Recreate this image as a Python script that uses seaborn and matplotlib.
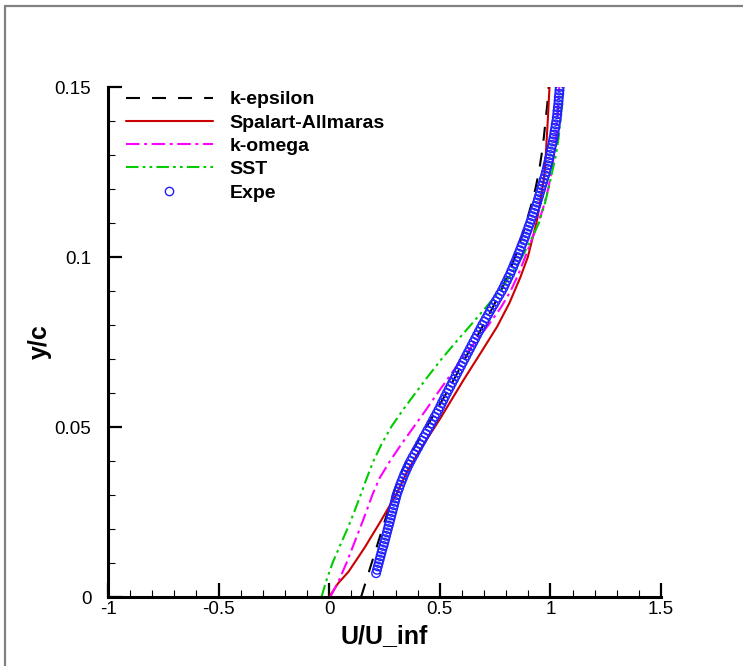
import matplotlib
matplotlib.use("Agg")
import matplotlib.pyplot as plt
from matplotlib.lines import Line2D
from matplotlib.ticker import MultipleLocator
import seaborn as sns
import pandas as pd

# ---------------- data ----------------
keps_y = [0.000, 0.010, 0.020, 0.030, 0.035, 0.040, 0.045, 0.050, 0.055, 0.060, 0.065, 0.070, 0.075,
          0.080, 0.085, 0.090, 0.095, 0.100, 0.105, 0.110, 0.115, 0.120, 0.125, 0.130, 0.135, 0.140,
          0.145, 0.150]
keps_u = [0.144, 0.192, 0.240, 0.288, 0.315, 0.350, 0.395, 0.440, 0.485, 0.530, 0.572, 0.613, 0.655,
          0.697, 0.738, 0.776, 0.810, 0.840, 0.866, 0.890, 0.912, 0.932, 0.948, 0.960, 0.970, 0.978,
          0.986, 0.992]

sa_y = [0.000, 0.004, 0.0074, 0.0145, 0.022, 0.0305, 0.0372, 0.0432, 0.0525, 0.0638, 0.0718, 0.0795,
        0.0865, 0.094, 0.100, 0.107, 0.111, 0.1168, 0.1226, 0.1275, 0.140, 0.150]
sa_u = [0.000, 0.040, 0.087, 0.160, 0.230, 0.306, 0.355, 0.410, 0.502, 0.607, 0.685, 0.759,
        0.815, 0.864, 0.898, 0.925, 0.940, 0.955, 0.970, 0.977, 0.988, 0.996]

kom_y = [0.000, 0.005, 0.010, 0.015, 0.020, 0.025, 0.030, 0.035, 0.040, 0.045, 0.050, 0.055, 0.060,
         0.065, 0.070, 0.075, 0.080, 0.085, 0.090, 0.095, 0.100, 0.105, 0.110, 0.115, 0.120, 0.125,
         0.130, 0.135, 0.140, 0.145, 0.150]
kom_u = [0.005, 0.045, 0.078, 0.108, 0.138, 0.167, 0.195, 0.228, 0.275, 0.327, 0.382, 0.437, 0.490,
         0.545, 0.600, 0.660, 0.720, 0.775, 0.820, 0.856, 0.886, 0.915, 0.945, 0.970, 0.990, 1.005,
         1.016, 1.025, 1.031, 1.036, 1.040]

sst_y = [0.000, 0.005, 0.010, 0.015, 0.020, 0.025, 0.030, 0.035, 0.040, 0.045, 0.050, 0.055, 0.060,
         0.065, 0.070, 0.075, 0.080, 0.085, 0.090, 0.095, 0.100, 0.105, 0.110, 0.115, 0.120, 0.125,
         0.130, 0.135, 0.140, 0.145, 0.150]
sst_u = [-0.035, -0.012, 0.015, 0.048, 0.082, 0.113, 0.142, 0.170, 0.200, 0.237, 0.280, 0.333, 0.390,
         0.448, 0.508, 0.573, 0.640, 0.706, 0.770, 0.824, 0.872, 0.912, 0.948, 0.972, 0.991, 1.008,
         1.025, 1.037, 1.045, 1.051, 1.055]

expe_y = [0.007, 0.008, 0.009, 0.010, 0.011, 0.012, 0.013, 0.014, 0.015, 0.016,
          0.017, 0.018, 0.019, 0.020, 0.021, 0.022, 0.023, 0.024, 0.025, 0.026,
          0.027, 0.028, 0.029, 0.030, 0.031, 0.032, 0.033, 0.034, 0.035, 0.036,
          0.037, 0.038, 0.039, 0.040, 0.041, 0.042, 0.043, 0.044, 0.045, 0.046,
          0.047, 0.048, 0.049, 0.050, 0.051, 0.052, 0.053, 0.054, 0.055, 0.056,
          0.057, 0.058, 0.059, 0.060, 0.061, 0.062, 0.063, 0.064, 0.065, 0.066,
          0.067, 0.068, 0.069, 0.070, 0.071, 0.072, 0.073, 0.074, 0.075, 0.076,
          0.077, 0.078, 0.079, 0.080, 0.081, 0.082, 0.083, 0.084, 0.085, 0.086,
          0.087, 0.088, 0.089, 0.090, 0.091, 0.092, 0.093, 0.094, 0.095, 0.096,
          0.097, 0.098, 0.099, 0.100, 0.101, 0.102, 0.103, 0.104, 0.105, 0.106,
          0.107, 0.108, 0.109, 0.110, 0.111, 0.112, 0.113, 0.114, 0.115, 0.116,
          0.117, 0.118, 0.119, 0.120, 0.121, 0.122, 0.123, 0.124, 0.125, 0.126,
          0.127, 0.128, 0.129, 0.130, 0.131, 0.132, 0.133, 0.134, 0.135, 0.136,
          0.137, 0.138, 0.139, 0.140, 0.141, 0.142, 0.143, 0.144, 0.145, 0.146,
          0.147, 0.148, 0.149, 0.150]
expe_u = [0.212, 0.216, 0.220, 0.224, 0.228, 0.232, 0.236, 0.240, 0.245, 0.249,
          0.253, 0.257, 0.261, 0.265, 0.269, 0.273, 0.277, 0.281, 0.285, 0.289,
          0.293, 0.297, 0.301, 0.305, 0.310, 0.316, 0.321, 0.327, 0.333, 0.339,
          0.346, 0.353, 0.360, 0.368, 0.376, 0.385, 0.393, 0.402, 0.410, 0.419,
          0.427, 0.436, 0.444, 0.453, 0.461, 0.469, 0.477, 0.486, 0.494, 0.502,
          0.509, 0.517, 0.524, 0.532, 0.540, 0.548, 0.556, 0.564, 0.572, 0.580,
          0.588, 0.596, 0.604, 0.612, 0.620, 0.628, 0.636, 0.644, 0.652, 0.660,
          0.668, 0.676, 0.684, 0.692, 0.701, 0.709, 0.718, 0.726, 0.735, 0.744,
          0.753, 0.762, 0.771, 0.780, 0.788, 0.795, 0.803, 0.810, 0.818, 0.824,
          0.831, 0.837, 0.844, 0.850, 0.856, 0.862, 0.868, 0.874, 0.880, 0.886,
          0.891, 0.897, 0.902, 0.908, 0.913, 0.919, 0.924, 0.930, 0.935, 0.940,
          0.944, 0.949, 0.953, 0.958, 0.962, 0.967, 0.971, 0.976, 0.980, 0.984,
          0.987, 0.991, 0.994, 0.998, 1.001, 1.004, 1.008, 1.011, 1.014, 1.017,
          1.019, 1.022, 1.024, 1.027, 1.029, 1.031, 1.032, 1.034, 1.036, 1.037,
          1.038, 1.040, 1.041, 1.042]

labels = ["k-epsilon", "Spalart-Allmaras", "k-omega", "SST", "Expe"]
x_ticks = [-1, -0.5, 0, 0.5, 1, 1.5]
x_ticklabels = ["-1", "-0.5", "0", "0.5", "1", "1.5"]
y_ticks = [0, 0.05, 0.1, 0.15]
y_ticklabels = ["0", "0.05", "0.1", "0.15"]

# ---------------- styling ----------------
sns.set_theme(style="white")
plt.rcParams["font.family"] = ["Liberation Sans", "DejaVu Sans"]

fig = plt.figure(figsize=(7.43, 6.66), dpi=100)
ax = fig.add_axes([108 / 743, 69 / 666, 553 / 743, 510 / 666])

LW = 1.5
style = {
    "k-epsilon": dict(color="black", linestyle=(0, (6.7, 5.8))),
    "Spalart-Allmaras": dict(color="#cc0000", linestyle="-"),
    "k-omega": dict(color="#ff00ff", linestyle=(0, (6.5, 2.2, 1.4, 2.2))),
    "SST": dict(color="#00cc00", linestyle=(0, (6.0, 2.0, 1.3, 2.0, 1.3, 2.0))),
}
curves = {
    "k-epsilon": (keps_u, keps_y),
    "Spalart-Allmaras": (sa_u, sa_y),
    "k-omega": (kom_u, kom_y),
    "SST": (sst_u, sst_y),
}
for name, (u, y) in curves.items():
    df = pd.DataFrame({"u": u, "y": y})
    sns.lineplot(data=df, x="u", y="y", sort=False, estimator=None, ax=ax,
                 lw=LW, **style[name])

dfe = pd.DataFrame({"u": expe_u, "y": expe_y})
sns.scatterplot(data=dfe, x="u", y="y", ax=ax, marker="o", s=38,
                facecolors="none", edgecolor="#2020ff", linewidth=1.0, zorder=5)

ax.set_xlim(-1, 1.5)
ax.set_ylim(0, 0.15)
ax.set_xticks(x_ticks)
ax.set_xticklabels(x_ticklabels)
ax.set_yticks(y_ticks)
ax.set_yticklabels(y_ticklabels)
ax.xaxis.set_minor_locator(MultipleLocator(0.1))
ax.yaxis.set_minor_locator(MultipleLocator(0.01))
ax.tick_params(which="major", direction="in", length=10, width=1.6, color="black",
               labelsize=13.5, labelcolor="black")
ax.tick_params(which="minor", direction="in", length=5, width=0.8, color="black")
ax.tick_params(axis="x", which="major", pad=3)
ax.tick_params(axis="y", which="major", pad=12)
ax.tick_params(axis="both", which="both", bottom=True, left=True, top=False, right=False)
for s in ["top", "right"]:
    ax.spines[s].set_visible(False)
for s in ["left", "bottom"]:
    ax.spines[s].set_color("black")
    ax.spines[s].set_linewidth(2.2)
ax.grid(False)

lab_font = dict(family=["Liberation Sans Narrow", "Liberation Sans"], weight="bold", size=18)
ax.set_xlabel("U/U_inf", fontdict=lab_font, labelpad=4, color="black")
ax.set_ylabel("y/c", fontdict=lab_font, labelpad=2, color="black")

handles = [
    Line2D([], [], lw=LW, **style["k-epsilon"]),
    Line2D([], [], lw=LW, **style["Spalart-Allmaras"]),
    Line2D([], [], lw=LW, **style["k-omega"]),
    Line2D([], [], lw=LW, **style["SST"]),
    Line2D([], [], linestyle="none", marker="o", markersize=6, markerfacecolor="none",
           markeredgecolor="#2020ff", markeredgewidth=1.0),
]
leg = ax.legend(handles, labels, loc="upper left", bbox_to_anchor=(0.025, 1.0),
                frameon=False, prop=dict(weight="bold", size=14), handlelength=4.5,
                handletextpad=0.85, labelspacing=0.29, borderpad=0.2, borderaxespad=0.0,
                numpoints=1)
for t in leg.get_texts():
    t.set_color("black")

# outer frame (top and left edges visible)
fig.add_artist(Line2D([5 / 743, 1.0], [1 - 6 / 666, 1 - 6 / 666], transform=fig.transFigure,
                      color="#808080", lw=1.6))
fig.add_artist(Line2D([5 / 743, 5 / 743], [0.0, 1 - 6 / 666], transform=fig.transFigure,
                      color="#808080", lw=1.6))

fig.savefig("out.png", dpi=100, facecolor="white")
